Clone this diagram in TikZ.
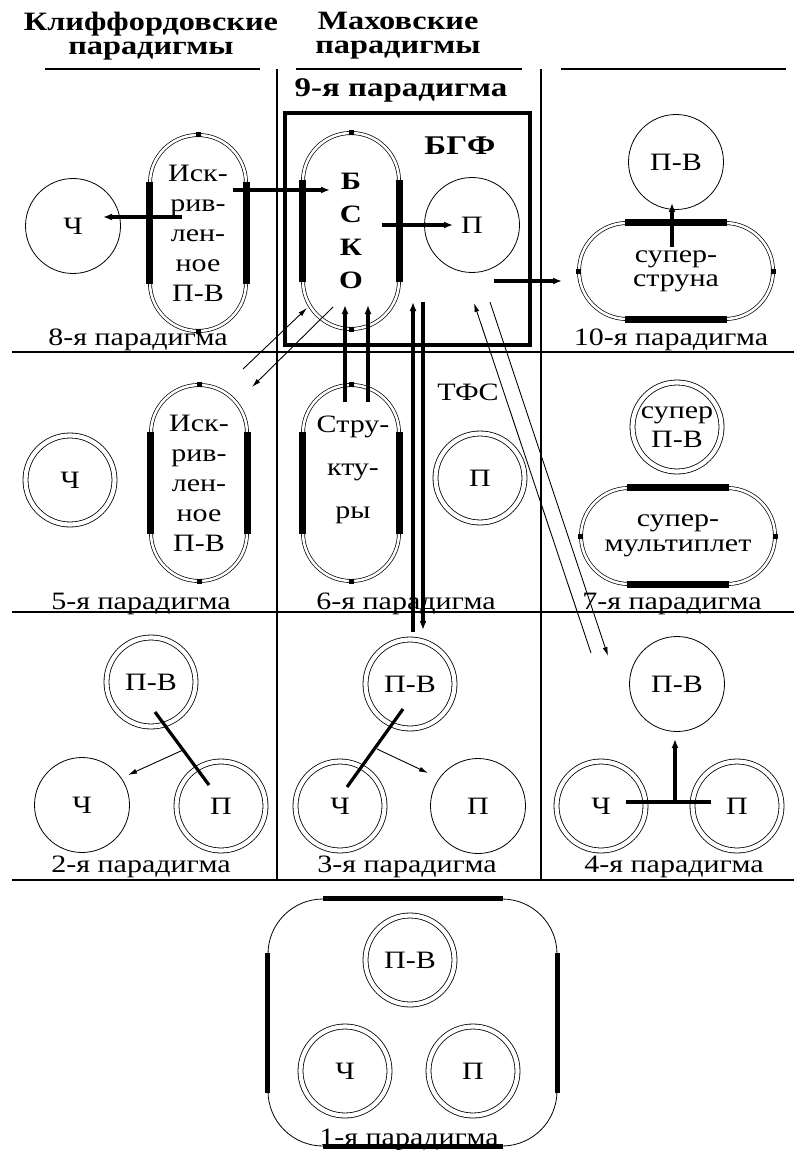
\documentclass[tikz,border=0pt]{standalone}
\usepackage{fontspec}
\setmainfont{Liberation Serif}[FakeStretch=1.2,BoldFeatures={FakeStretch=1.22}]
\usetikzlibrary{arrows.meta}
\newcommand\tsz{\fontsize{25}{30}\selectfont}
\newcommand\vbars[1]{%
  \draw[bar] ([yshift=51pt]#1.west) -- ([yshift=-51pt]#1.west);
  \draw[bar] ([yshift=51pt]#1.east) -- ([yshift=-51pt]#1.east);
  \draw[knob] ([yshift=-2.5pt]#1.north) -- ([yshift=2.5pt]#1.north);
  \draw[knob] ([yshift=-2.5pt]#1.south) -- ([yshift=2.5pt]#1.south);}
\newcommand\hbars[1]{%
  \draw[hbar] ([xshift=-51pt]#1.north) -- ([xshift=51pt]#1.north);
  \draw[hbar] ([xshift=-51pt]#1.south) -- ([xshift=51pt]#1.south);
  \draw[knob] ([xshift=-2.5pt]#1.west) -- ([xshift=2.5pt]#1.west);
  \draw[knob] ([xshift=-2.5pt]#1.east) -- ([xshift=2.5pt]#1.east);}
\begin{document}
\begin{tikzpicture}[x=1pt,y=-1pt,
  font=\tsz,
  gridl/.style={line width=2pt},
  ring/.style={circle,draw,line width=0.8pt,minimum size=95pt,inner sep=0pt},
  dring/.style={circle,draw,line width=0.8pt,double=white,double distance=4.2pt,minimum size=89pt,inner sep=0pt},
  vpill/.style={rectangle,draw,line width=0.7pt,double=white,double distance=2.5pt,minimum width=96pt,minimum height=196pt,rounded corners=48pt,inner sep=0pt,align=center},
  hpill/.style={rectangle,draw,line width=0.7pt,double=white,double distance=2.5pt,minimum width=194pt,minimum height=96pt,rounded corners=48pt,inner sep=0pt,align=center},
  bar/.style={line width=6.5pt},
  hbar/.style={line width=7pt},
  knob/.style={line width=5pt},
  tharrow/.style={line width=3.2pt,-{Latex[length=9pt,width=7pt]}},
  tnarrow/.style={line width=0.9pt,-{Latex[length=9pt,width=5pt]}},
  thline/.style={line width=3.2pt},
  lab/.style={anchor=base,inner sep=0pt},
  hd/.style={anchor=base,inner sep=0pt,font=\bfseries\fontsize{27}{30}\selectfont},
  hd2/.style={anchor=north,inner sep=0pt,align=center,font=\bfseries\fontsize{26.5}{24}\selectfont},
]
\useasboundingbox (0,0) rectangle (794,1150);
% grid
\coordinate (g1l) at (45,69);  \coordinate (g1r) at (260,69);
\coordinate (g2l) at (296,69); \coordinate (g2r) at (522,69);
\coordinate (g3l) at (561,69); \coordinate (g3r) at (786,69);
\draw[gridl] (g1l) -- (g1r); \draw[gridl] (g2l) -- (g2r); \draw[gridl] (g3l) -- (g3r);
\coordinate (v1t) at (277,69); \coordinate (v1b) at (277,880);
\coordinate (v2t) at (541,69); \coordinate (v2b) at (541,880);
\draw[gridl] (v1t) -- (v1b); \draw[gridl] (v2t) -- (v2b);
\coordinate (r1l) at (12,352); \coordinate (r1r) at (794,352);
\coordinate (r2l) at (12,612); \coordinate (r2r) at (794,612);
\coordinate (r3l) at (12,880); \coordinate (r3r) at (794,880);
\draw[gridl] (r1l) -- (r1r); \draw[gridl] (r2l) -- (r2r); \draw[gridl] (r3l) -- (r3r);
% headers
\node[hd2] (h1) at (151,11.5) {Клиффордовские\\парадигмы};
\node[hd2] (h2) at (398,11.5) {Маховские\\парадигмы};
\node[hd] (l9) at (401,97) {9-я парадигма};
% box of 9th paradigm
\node[draw,line width=4pt,minimum width=245pt,minimum height=232pt,inner sep=0pt] (box9) at (407.5,229) {};
\node[hd] (bgf) at (460,155) {БГФ};
% cell 8
\node[ring] (c8ch) at (73,226) {Ч};
\node[vpill] (p8) at (198,233) {Иск-\\рив-\\лен-\\ное\\П-В};
\vbars{p8}
\node[lab] (l8) at (138,345) {8-я парадигма};
% cell 9
\node[vpill,font=\bfseries\fontsize{25}{33}\selectfont] (p9) at (351,231) {Б\\С\\К\\О};
\vbars{p9}
\node[ring] (c9p) at (472,225) {П};
% cell 10
\node[ring] (c10pv) at (676,162) {П-В};
\node[hpill,font=\fontsize{25}{24}\selectfont] (p10) at (676,271) {супер-\\струна};
\hbars{p10}
\node[lab] (l10) at (671,345) {10-я парадигма};
% cell 5
\node[dring] (c5ch) at (70,480) {Ч};
\node[vpill] (p5) at (199,483) {Иск-\\рив-\\лен-\\ное\\П-В};
\vbars{p5}
\node[lab] (l5) at (141,609) {5-я парадигма};
% cell 6
\node[vpill] (p6) at (351,483) {};
\vbars{p6}
\node[align=center,inner sep=0pt,font=\fontsize{25}{43}\selectfont] (t6) at (353,470) {Стру-\\кту-\\ры};
\node[dring] (c6p) at (480,478) {П};
\node[lab] (tfs) at (468,400) {ТФС};
\node[lab] (l6) at (406,609) {6-я парадигма};
% cell 7
\node[dring,align=center,font=\fontsize{25}{29}\selectfont] (c7pv) at (677,427) {супер\\П-В};
\node[hpill,font=\fontsize{25}{25}\selectfont] (p7) at (678,536) {супер-\\мультиплет};
\hbars{p7}
\node[lab] (l7) at (672,609) {7-я парадигма};
% cell 2
\node[dring] (c2pv) at (151,682) {П-В};
\node[ring] (c2ch) at (82,805) {Ч};
\node[dring] (c2p) at (221,806) {П};
\node[lab] (l2) at (141,872) {2-я парадигма};
% cell 3
\node[dring] (c3pv) at (410,684) {П-В};
\node[dring] (c3ch) at (340,806) {Ч};
\node[ring] (c3p) at (478,806) {П};
\node[lab] (l3) at (407,872) {3-я парадигма};
% cell 4
\node[ring] (c4pv) at (677,684) {П-В};
\node[dring] (c4ch) at (601,806) {Ч};
\node[dring] (c4p) at (737,806) {П};
\node[lab] (l4) at (674,872) {4-я парадигма};
% cell 1
\node[draw,line width=0.8pt,rounded corners=55pt,minimum width=289pt,minimum height=247pt,inner sep=0pt] (b1) at (412.5,1022.5) {};
\draw[line width=5pt] ([xshift=-90pt]b1.north) -- ([xshift=90pt]b1.north);
\draw[line width=5pt] ([xshift=-90pt]b1.south) -- ([xshift=90pt]b1.south);
\draw[line width=5pt] ([yshift=70pt]b1.west) -- ([yshift=-70pt]b1.west);
\draw[line width=5pt] ([yshift=70pt]b1.east) -- ([yshift=-70pt]b1.east);
\node[dring] (c1pv) at (410,960) {П-В};
\node[dring] (c1ch) at (345,1071) {Ч};
\node[dring] (c1p) at (473,1071) {П};
\node[lab] (l1) at (409,1145) {1-я парадигма};
% connectors
\coordinate (a1s) at (182,217); \coordinate (a1e) at (103,217);
\draw[tharrow] (a1s) -- (a1e);
\coordinate (a2s) at (233,190); \coordinate (a2e) at (330,190);
\draw[tharrow] (a2s) -- (a2e);
\coordinate (a3s) at (382,225); \coordinate (a3e) at (453,225);
\draw[tharrow] (a3s) -- (a3e);
\coordinate (a4s) at (494,281); \coordinate (a4e) at (562,281);
\draw[tharrow] (a4s) -- (a4e);
\coordinate (a5s) at (672,247); \coordinate (a5e) at (672,203);
\draw[tharrow] (a5s) -- (a5e);
\coordinate (x1s) at (243,369); \coordinate (x1e) at (307,308);
\draw[tnarrow] (x1s) -- (x1e);
\coordinate (x2s) at (333,307); \coordinate (x2e) at (252,387);
\draw[tnarrow] (x2s) -- (x2e);
\coordinate (u1s) at (345,402); \coordinate (u1e) at (345,305);
\draw[tharrow] (u1s) -- (u1e);
\coordinate (u2s) at (368,402); \coordinate (u2e) at (368,305);
\draw[tharrow] (u2s) -- (u2e);
\coordinate (u3s) at (413,632); \coordinate (u3e) at (413,302);
\draw[tharrow] (u3s) -- (u3e);
\coordinate (u4s) at (423,302); \coordinate (u4e) at (423,630);
\draw[tharrow] (u4s) -- (u4e);
\coordinate (d1s) at (591,653); \coordinate (d1e) at (474,303);
\draw[tnarrow] (d1s) -- (d1e);
\coordinate (d2s) at (490,302); \coordinate (d2e) at (608,656);
\draw[tnarrow] (d2s) -- (d2e);
% cell 2 connectors
\coordinate (k2a) at (155,712); \coordinate (k2b) at (209,785);
\draw[thline] (k2a) -- (k2b);
\coordinate (k2s) at (183,750); \coordinate (k2e) at (128,775);
\draw[tnarrow] (k2s) -- (k2e);
% cell 3 connectors
\coordinate (k3a) at (403,709); \coordinate (k3b) at (347,787);
\draw[thline] (k3a) -- (k3b);
\coordinate (k3s) at (377,749); \coordinate (k3e) at (428,773);
\draw[tnarrow] (k3s) -- (k3e);
% cell 4 connectors
\coordinate (k4a) at (626,802); \coordinate (k4b) at (711,802);
\draw[thline] (k4a) -- (k4b);
\coordinate (k4s) at (675,802); \coordinate (k4e) at (675,739);
\draw[tharrow] (k4s) -- (k4e);
\end{tikzpicture}
\end{document}
